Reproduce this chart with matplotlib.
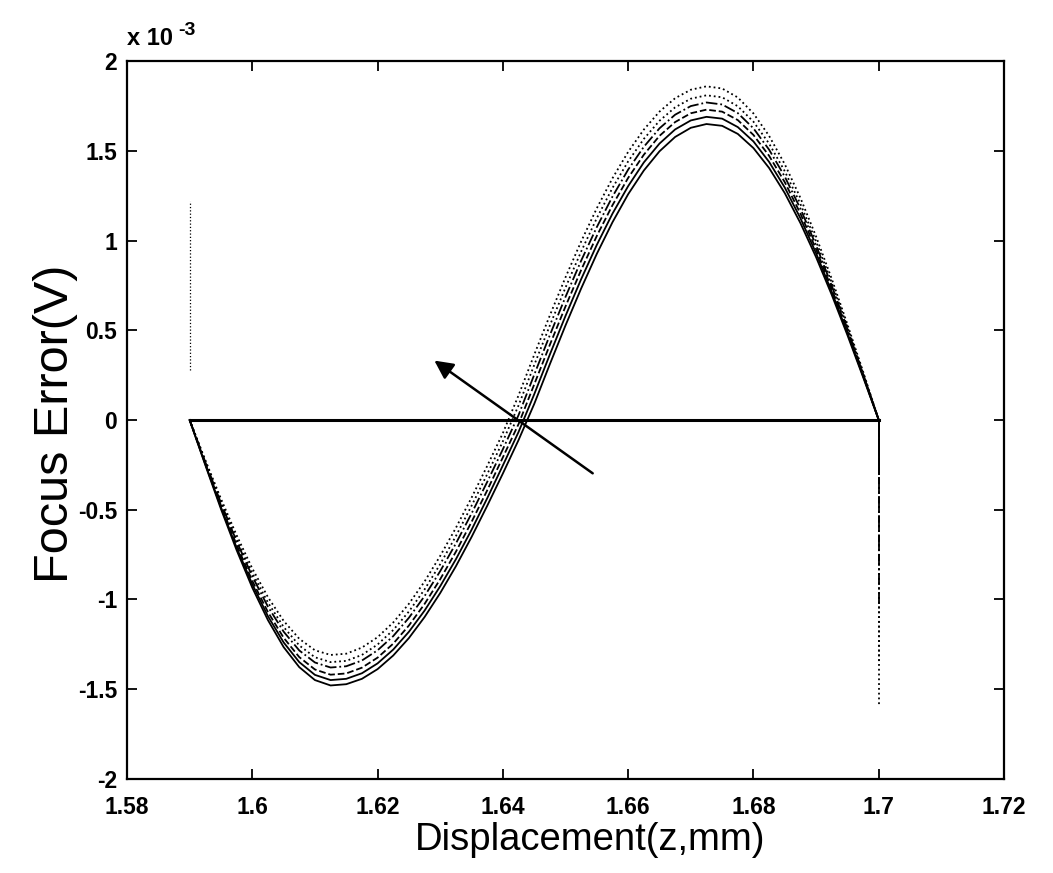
import numpy as np
import matplotlib
matplotlib.use("Agg")
import matplotlib.pyplot as plt
from matplotlib.ticker import FuncFormatter

plt.rcParams['font.family'] = ['Liberation Sans', 'DejaVu Sans']

# displacement grid (mm), 1.59 .. 1.70 in 0.0025 steps
displacement = np.linspace(1.59, 1.70, 45)

# focus error curves (x 1e-3 V), bottom peak -> top peak
fe_1 = [0, -0.251, -0.496, -0.725, -0.934, -1.115, -1.265, -1.377, -1.449, -1.479,
        -1.472, -1.442, -1.388, -1.312, -1.215, -1.098, -0.964, -0.815, -0.652, -0.478, -0.298,
        -0.112,
        0.089, 0.311, 0.527, 0.733, 0.926, 1.102, 1.258, 1.390, 1.497, 1.577, 1.628, 1.649,
        1.639, 1.594, 1.515, 1.404, 1.264, 1.097, 0.907, 0.697, 0.473, 0.239, 0]
fe_2 = [0, -0.246, -0.486, -0.711, -0.915, -1.093, -1.239, -1.349, -1.420, -1.449,
        -1.442, -1.411, -1.356, -1.279, -1.180, -1.062, -0.926, -0.776, -0.612, -0.436, -0.253,
        -0.067,
        0.143, 0.365, 0.580, 0.785, 0.976, 1.150, 1.303, 1.435, 1.540, 1.619, 1.669, 1.689,
        1.679, 1.632, 1.552, 1.438, 1.295, 1.124, 0.929, 0.714, 0.485, 0.245, 0]
fe_3 = [0, -0.241, -0.476, -0.696, -0.896, -1.070, -1.213, -1.321, -1.390, -1.419,
        -1.412, -1.380, -1.324, -1.246, -1.145, -1.025, -0.887, -0.734, -0.568, -0.392, -0.208,
        -0.023,
        0.198, 0.419, 0.633, 0.836, 1.026, 1.197, 1.349, 1.478, 1.583, 1.660, 1.709, 1.729,
        1.718, 1.671, 1.588, 1.472, 1.325, 1.150, 0.951, 0.731, 0.496, 0.251, 0]
fe_4 = [0, -0.234, -0.462, -0.676, -0.871, -1.040, -1.179, -1.284, -1.351, -1.379,
        -1.372, -1.340, -1.283, -1.204, -1.102, -0.981, -0.842, -0.688, -0.521, -0.345, -0.163,
        0.027,
        0.252, 0.473, 0.686, 0.888, 1.075, 1.245, 1.395, 1.522, 1.625, 1.701, 1.749, 1.769,
        1.758, 1.710, 1.625, 1.506, 1.356, 1.177, 0.973, 0.748, 0.508, 0.256, 0]
fe_5 = [0, -0.229, -0.452, -0.662, -0.852, -1.017, -1.153, -1.256, -1.322, -1.349,
        -1.342, -1.309, -1.251, -1.170, -1.067, -0.944, -0.803, -0.647, -0.478, -0.302, -0.119,
        0.081,
        0.306, 0.527, 0.738, 0.939, 1.125, 1.293, 1.441, 1.566, 1.667, 1.742, 1.790, 1.809,
        1.798, 1.748, 1.662, 1.540, 1.386, 1.203, 0.995, 0.765, 0.519, 0.262, 0]
fe_6 = [0, -0.223, -0.439, -0.642, -0.827, -0.987, -1.119, -1.219, -1.283, -1.309,
        -1.302, -1.268, -1.210, -1.128, -1.024, -0.900, -0.757, -0.601, -0.433, -0.256, -0.073,
        0.137,
        0.363, 0.583, 0.795, 0.995, 1.180, 1.347, 1.494, 1.618, 1.718, 1.793, 1.840, 1.859,
        1.847, 1.797, 1.708, 1.583, 1.425, 1.237, 1.022, 0.786, 0.533, 0.270, 0]
curves = [fe_1, fe_2, fe_3, fe_4, fe_5, fe_6]

# vertical drop of each curve at z = 1.70
tail_ends = [-0.25, -0.30, -0.80, -1.05, -1.35, -1.60]
# dotted spike at z = 1.59
spike_x = 1.59
spike_y = [0.28, 1.22]
# zero line
zero_x = [1.59, 1.70]
# arrow (tail -> head)
arrow_tail = (1.6547, -0.306)
arrow_head = (1.6287, 0.34)

styles = ['-', '-', '--', '-.', ':', ':']

fig = plt.figure(figsize=(10.53, 8.73), dpi=100)
ax = fig.add_axes([0.1206, 0.1077, 0.8329, 0.8224])

for y, ls, te in zip(curves, styles, tail_ends):
    ax.plot(displacement, y, color='black', linestyle=ls, lw=1.3)
    ax.plot([1.70, 1.70], [0, te], color='black', linestyle=ls, lw=1.3)

ax.plot(zero_x, [0, 0], color='black', lw=2.2)
ax.plot([spike_x, spike_x], spike_y, color='black', linestyle=':', lw=0.9)

ax.annotate('', xy=arrow_head, xytext=arrow_tail,
            arrowprops=dict(arrowstyle='-|>', color='black', lw=1.8, mutation_scale=28))

ax.set_xlim(1.58, 1.72)
ax.set_ylim(-2, 2)
ax.set_xticks([1.58, 1.6, 1.62, 1.64, 1.66, 1.68, 1.7, 1.72])
ax.set_yticks([-2, -1.5, -1, -0.5, 0, 0.5, 1, 1.5, 2])
fmt = FuncFormatter(lambda v, p: '%g' % v)
ax.xaxis.set_major_formatter(fmt)
ax.yaxis.set_major_formatter(fmt)
ax.tick_params(direction='in', length=7, width=1.3, top=True, right=True,
               labelsize=16.5)
ax.tick_params(axis='x', pad=12)
ax.tick_params(axis='y', pad=7)
for lab in ax.get_xticklabels() + ax.get_yticklabels():
    lab.set_fontweight('bold')
for sp in ax.spines.values():
    sp.set_linewidth(1.6)

ax.set_xlabel('Displacement(z,mm)', fontsize=27.5)
ax.xaxis.set_label_coords(0.528, -0.06)
ax.set_ylabel('Focus Error(V)', fontsize=35)
ax.yaxis.set_label_coords(-0.056, 0.494)

ax.text(0.0, 1.022, 'x 10', transform=ax.transAxes, fontsize=17, fontweight='bold',
        ha='left', va='baseline')
ax.text(0.058, 1.036, '-3', transform=ax.transAxes, fontsize=14, fontweight='bold',
        ha='left', va='baseline')

fig.savefig('out.png', dpi=100)
